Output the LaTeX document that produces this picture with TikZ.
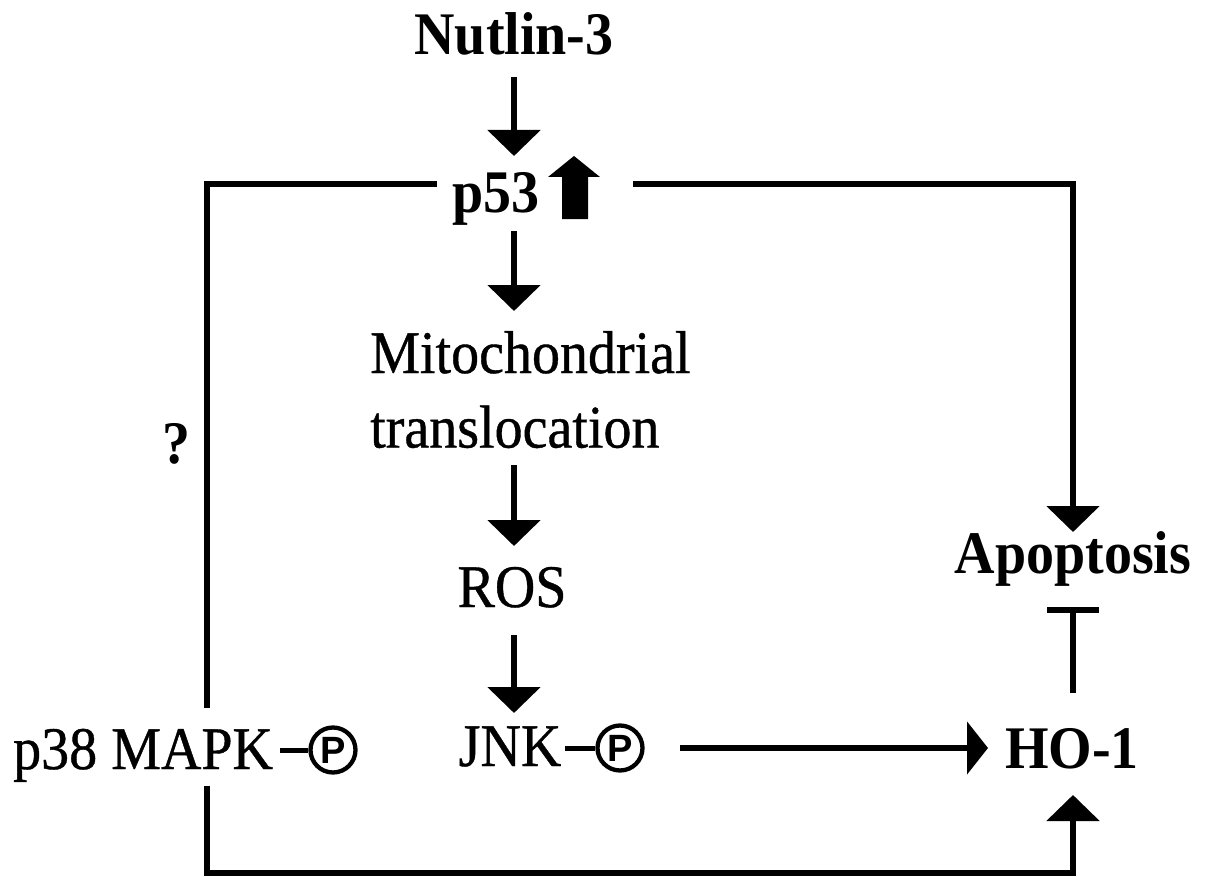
\documentclass[tikz,border=0pt]{standalone}
\usepackage{graphicx}
\usepackage{fontspec}
\setmainfont{Liberation Serif}
\newfontfamily\heavyserif[FakeBold=0.7]{Liberation Serif}
\newfontfamily\psans{Liberation Sans}
\usetikzlibrary{arrows.meta}
\newcommand\vst[1]{\scalebox{1}[1.08]{#1}}
\begin{document}
\begin{tikzpicture}[x=1pt,y=1pt,
  lbl/.style={inner sep=0pt, anchor=base, font=\heavyserif\fontsize{56}{69}\selectfont},
  blbl/.style={inner sep=0pt, anchor=base, font=\fontsize{56}{69}\selectfont\bfseries},
  phos/.style={circle, draw, line width=4.3pt, minimum size=45pt, inner sep=0pt, font=\psans\bfseries\fontsize{38}{38}\selectfont},
  ln/.style={line width=5.8pt, line join=miter},
  arr/.style={ln, -{Triangle[width=52pt,length=26pt]}},
  harr/.style={ln, -{Triangle[width=52pt,length=21pt]}},
  inh/.style={ln, -{Bar[width=52pt]}}
]
\useasboundingbox (0,0) rectangle (1205,-888);

% text nodes
\node[blbl] (nut) at (514,-55) {\vst{Nutlin-3}};
\node[blbl] (p53) at (496,-212) {\vst{p53}};
\node[lbl, anchor=base west] (mito) at (370,-373) {\vst{\begin{tabular}[t]{@{}l@{}}Mitochondrial\\translocation\end{tabular}}};
\node[lbl] (ros) at (512,-607) {\vst{ROS}};
\node[lbl] (jnk) at (510,-766) {\vst{JNK}};
\node[lbl, anchor=base west] (p38) at (13,-769) {\vst{p38 MAPK}};
\node[blbl] (apo) at (1073,-573) {\vst{Apoptosis}};
\node[blbl] (ho1) at (1072,-768) {\vst{HO-1}};
\node[blbl] (q) at (176,-463) {\vst{?}};

% phospho circles
\node[phos] (p38p) at (333,-750) {P};
\node[phos] (jnkp) at (620,-748) {P};
\draw[line width=5pt] (p38p.west) -- ++(-28,0);
\draw[line width=5pt] (jnkp.west) -- ++(-30,0);

% up arrow next to p53
\fill (562,-219) -- (562,-177) -- (548,-177) -- (574,-156) -- (600,-177) -- (588,-177) -- (588,-219) -- cycle;

% connector end points
\coordinate (a1s) at (514,-77);   \coordinate (a1e) at (514,-156);
\coordinate (a2s) at (514,-231);  \coordinate (a2e) at (514,-311);
\coordinate (a3s) at (514,-465);  \coordinate (a3e) at (514,-546);
\coordinate (a4s) at (514,-635);  \coordinate (a4e) at (514,-713);
\coordinate (jh) at (680,-748);   \coordinate (hoW) at (988,-748);
\coordinate (pr) at (633,-184);   \coordinate (pc) at (1073,-184);  \coordinate (apoN) at (1073,-532);
\coordinate (pl) at (437,-184);   \coordinate (lc) at (207,-184);   \coordinate (p38N) at (207,-708);
\coordinate (p38S) at (207,-786); \coordinate (bc1) at (207,-873);  \coordinate (bc2) at (1073,-873); \coordinate (hoS) at (1073,-795);
\coordinate (hoN) at (1073,-693); \coordinate (apoS) at (1073,-607);

\draw[arr] (a1s) -- (a1e);
\draw[arr] (a2s) -- (a2e);
\draw[arr] (a3s) -- (a3e);
\draw[arr] (a4s) -- (a4e);
\draw[harr] (jh) -- (hoW);
\draw[arr] (pr) -- (pc) -- (apoN);
\draw[ln] (pl) -- (lc) -- (p38N);
\draw[arr] (p38S) -- (bc1) -- (bc2) -- (hoS);
\draw[inh] (hoN) -- (apoS);
\end{tikzpicture}
\end{document}
